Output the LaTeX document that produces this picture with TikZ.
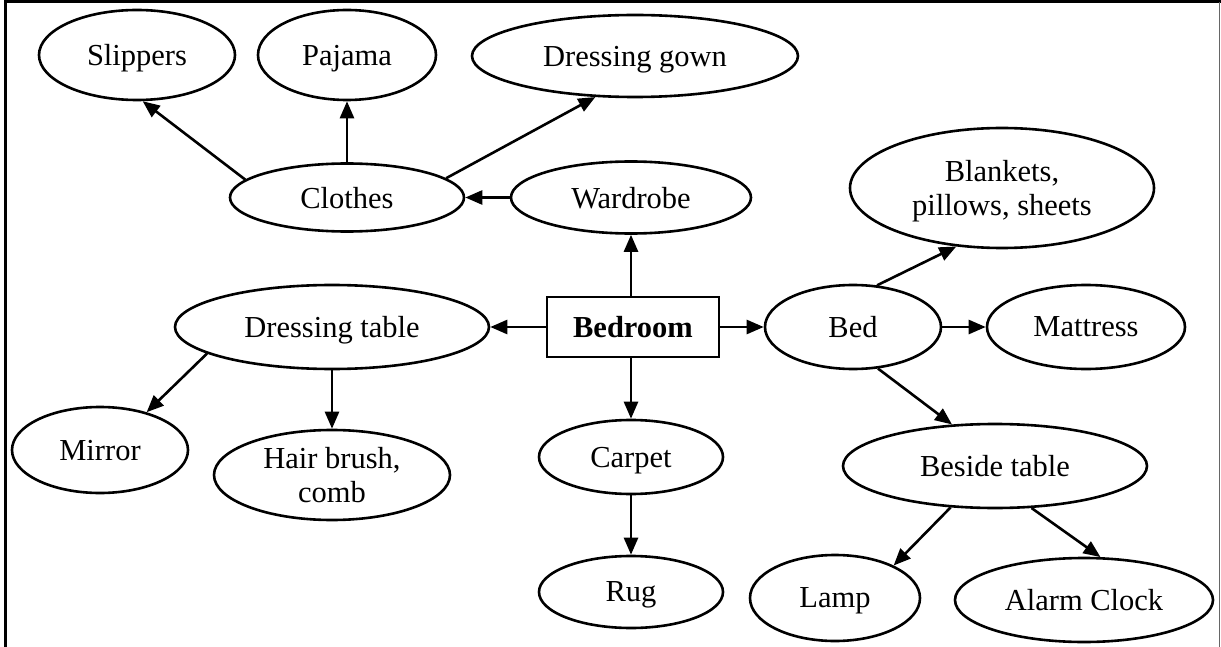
\documentclass[tikz,border=0pt]{standalone}
\usepackage{fontspec}
\setmainfont{Liberation Serif}
\usetikzlibrary{shapes.geometric,arrows.meta}
\begin{document}
\begin{tikzpicture}[x=1pt,y=-1pt,
  every node/.style={font=\fontsize{30.5}{34}\selectfont, align=center, text depth=0pt},
  oval/.style={draw, line width=2.6pt, ellipse, inner sep=0pt},
  hub/.style={draw, line width=2.2pt, rectangle, minimum width=172pt, minimum height=60pt, inner sep=0pt},
  arr/.style={line width=2.6pt, -{Triangle[length=17pt,width=14pt]}}]
\useasboundingbox (0,0) rectangle (1221,647);
% outer frame (open at the bottom)
\draw[line width=3pt] (5,647) -- (5,2) -- (1221,2);
\draw[line width=1.5pt, black!60] (1219.5,2) -- (1219.5,647);

% nodes
\node[hub] (bedroom) at (633,327) {\textbf{Bedroom}};
\node[oval, minimum width=196pt, minimum height=90pt] (slippers) at (137,55) {Slippers};
\node[oval, minimum width=178pt, minimum height=90pt] (pajama) at (347,55) {Pajama};
\node[oval, minimum width=326pt, minimum height=82pt] (gown) at (635,56) {Dressing gown};
\node[oval, minimum width=234pt, minimum height=68pt] (clothes) at (347,197.5) {Clothes};
\node[oval, minimum width=240pt, minimum height=72pt] (wardrobe) at (631,197.5) {Wardrobe};
\node[oval, minimum width=304pt, minimum height=120pt] (blankets) at (1002,188) {Blankets,\\pillows, sheets};
\node[oval, minimum width=176pt, minimum height=84pt] (bed) at (853,327) {Bed};
\node[oval, minimum width=198pt, minimum height=84pt] (mattress) at (1086,327) {Mattress};
\node[oval, minimum width=314pt, minimum height=84pt] (dtable) at (332,327) {Dressing table};
\node[oval, minimum width=176pt, minimum height=86pt] (mirror) at (100,450) {Mirror};
\node[oval, minimum width=236pt, minimum height=90pt] (hair) at (332,475) {Hair brush,\\comb};
\node[oval, minimum width=184pt, minimum height=74pt] (carpet) at (631,457) {Carpet};
\node[oval, minimum width=184pt, minimum height=72pt] (rug) at (631,592) {Rug};
\node[oval, minimum width=304pt, minimum height=84pt] (beside) at (995,466) {Beside table};
\node[oval, minimum width=170pt, minimum height=86pt] (lamp) at (835,598) {Lamp};
\node[oval, minimum width=258pt, minimum height=84pt] (alarm) at (1084,600) {Alarm Clock};

% connectors
\draw[arr] (clothes.170) -- (slippers.-83);
\draw[arr] (clothes.north) -- (pajama.south);
\draw[arr] (clothes.11) -- (gown.-134);
\draw[arr] (wardrobe.west) -- (clothes.east);
\draw[arr] (bedroom.north -| wardrobe.south) -- (wardrobe.south);
\draw[arr] (bedroom.west) -- (dtable.east);
\draw[arr] (bedroom.east) -- (bed.west);
\draw[arr] (bedroom.south -| carpet.north) -- (carpet.north);
\draw[arr] (carpet.south) -- (rug.north);
\draw[arr] (bed.60) -- (blankets.-128);
\draw[arr] (bed.east) -- (mattress.west);
\draw[arr] (bed.-59) -- (beside.136);
\draw[arr] (dtable.-168) -- (mirror.39);
\draw[arr] (dtable.south) -- (hair.north);
\draw[arr] (beside.-137) -- (lamp.29);
\draw[arr] (beside.-49) -- (alarm.69);
\end{tikzpicture}
\end{document}
